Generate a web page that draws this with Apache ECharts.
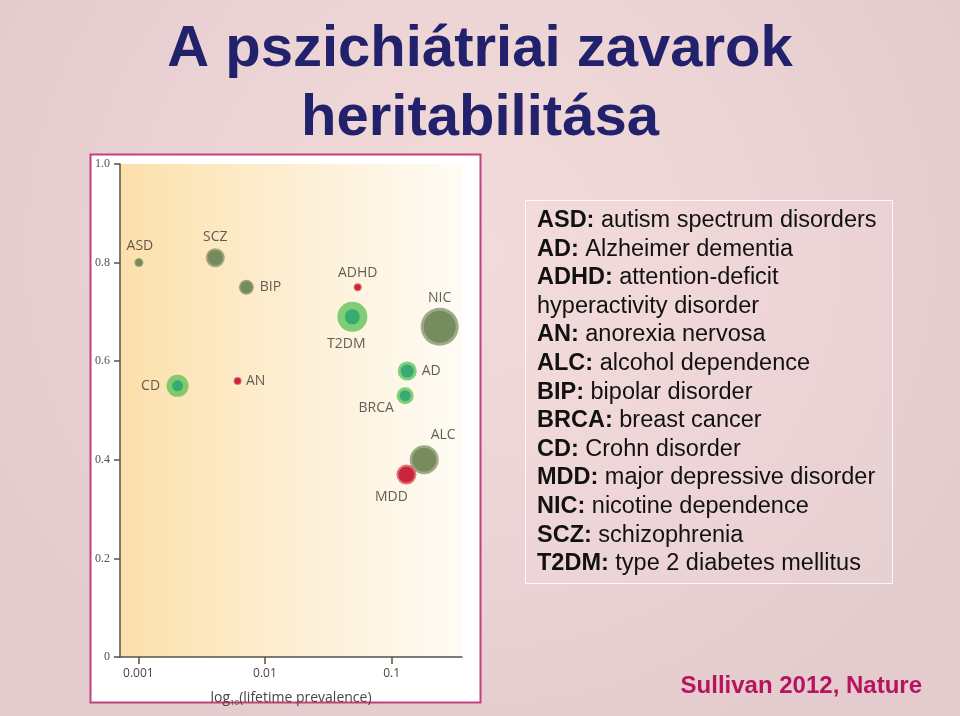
<!DOCTYPE html>
<html><head><meta charset="utf-8">
<script src="https://cdn.jsdelivr.net/npm/echarts@6/dist/echarts.min.js"></script>
<style>html,body{margin:0;padding:0;background:#e9d1d4;}#c{width:960px;height:716px;}</style>
</head><body><div id="c"></div>
<script>
// ---- data ----
const disorders    = ['ASD','SCZ','BIP','ADHD','T2DM','NIC','CD','AN','AD','BRCA','ALC','MDD'];
const prevalence   = [0.00101,0.00405,0.00713,0.054,0.049,0.24,0.00204,0.00608,0.133,0.128,0.181,0.131];
const heritability = [0.80,0.81,0.75,0.75,0.69,0.67,0.55,0.56,0.58,0.53,0.40,0.37];
const outerMagnitude = [9,19,15,8,30,38,22,8,19,17,29,20];
const innerMagnitude = [7,15,12,6,15,32,11,6,13,11,24,16];
const diseaseGroup = ['psy','psy','psy','red','med','psy','med','red','med','med','psy','red'];
const xTicks      = [0.001,0.01,0.1];
const xTickLabels = ['0.001','0.01','0.1'];
const yTicks      = [0,0.2,0.4,0.6,0.8,1.0];
const yTickLabels = ['0','0.2','0.4','0.6','0.8','1.0'];
const legendAbbr  = ['ASD','AD','ADHD','AN','ALC','BIP','BRCA','CD','MDD','NIC','SCZ','T2DM'];
const legendDesc  = ['autism spectrum disorders','Alzheimer dementia','attention-deficit\nhyperactivity disorder',
  'anorexia nervosa','alcohol dependence','bipolar disorder','breast cancer','Crohn disorder',
  'major depressive disorder','nicotine dependence','schizophrenia','type 2 diabetes mellitus'];
const titleText = 'A pszichiátriai zavarok\nheritabilitása';
const citeText  = 'Sullivan 2012, Nature';

// ---- styles ----
const haloColor = {psy:'rgba(128,145,104,0.95)', med:'#5fc35c', red:'#e0505f'};
const coreColor = {psy:'#6c8452', med:'#27a171', red:'#c3132c'};
const labelOffset = {ASD:[1,-17],SCZ:[0,-21],BIP:[24,0],ADHD:[0,-14],T2DM:[-6,27],NIC:[0,-29],
  CD:[-27,0],AN:[18,0],AD:[24,0],BRCA:[-29,12],ALC:[19,-25],MDD:[-15,22]};

const lg = v => Math.log10(v);
const pts = disorders.map((n,i)=>({name:n, idx:i}));

const haloData = pts.map(p=>({name:p.name, value:[lg(prevalence[p.idx]), heritability[p.idx], outerMagnitude[p.idx]],
  itemStyle:{color:haloColor[diseaseGroup[p.idx]]}}));
const coreData = pts.map(p=>({name:p.name, value:[lg(prevalence[p.idx]), heritability[p.idx], innerMagnitude[p.idx]],
  itemStyle:{color:coreColor[diseaseGroup[p.idx]]},
  label:{show:true, position:'inside', offset:labelOffset[p.name], formatter:p.name}}));

const legendRich = legendAbbr.map((a,i)=>'{b|'+a+':} '+legendDesc[i]).join('\n');

const chart = echarts.init(document.getElementById('c'), null, {renderer:'canvas'});
chart.setOption({
  animation:false,
  backgroundColor:{type:'radial', x:0.5, y:0.35, r:0.75, colorStops:[
    {offset:0,color:'#f3dada'},{offset:0.6,color:'#ebd2d4'},{offset:1,color:'#e3cbce'}]},
  grid:{left:120, right:498, top:164, bottom:59, show:true, borderWidth:0,
    backgroundColor:{type:'linear',x:0,y:0,x2:1,y2:0,colorStops:[
      {offset:0,color:'#fce0aa'},{offset:0.45,color:'#fdedcf'},{offset:1,color:'#fffcf5'}]}},
  graphic:[
    {type:'rect', z:-10, shape:{x:90.5,y:154.5,width:390,height:548},
      style:{fill:'#ffffff', stroke:'#c4407c', lineWidth:2}},
    {type:'rect', z:-10, shape:{x:525.5,y:200.5,width:367,height:383},
      style:{fill:'rgba(255,240,240,0.12)', stroke:'rgba(255,255,255,0.85)', lineWidth:1}},
    {type:'text', x:480, y:84, z:5,
      style:{text:titleText, textAlign:'center', textVerticalAlign:'middle', verticalAlign:'middle',
        fontFamily:'Liberation Sans, Arial', fontWeight:'bold', fontSize:58, lineHeight:69, fill:'#22226c'}},
    {type:'text', x:537, y:206.2, z:5,
      style:{text:legendRich, textAlign:'left', textVerticalAlign:'top', verticalAlign:'top',
        fontFamily:'Liberation Sans, Arial', fontSize:23.5, lineHeight:28.6, fill:'#111111',
        rich:{b:{fontFamily:'Liberation Sans, Arial', fontWeight:'bold', fontSize:23.5, lineHeight:28.6, fill:'#111111'}}}},
    {type:'text', x:922, y:686, z:5,
      style:{text:citeText, textAlign:'right', textVerticalAlign:'middle', verticalAlign:'middle',
        fontFamily:'Liberation Sans, Arial', fontWeight:'bold', fontSize:24, fill:'#b8135f'}}
  ],
  xAxis:{type:'value', min:lg(0.000716), max:lg(0.36),
    axisLine:{lineStyle:{color:'#5a5048', width:1.5}},
    axisTick:{show:true, length:7, inside:false, customValues:xTicks.map(lg), lineStyle:{color:'#5a5048', width:1.5}},
    axisLabel:{customValues:xTicks.map(lg), margin:11, color:'#4a4440', fontSize:12, fontFamily:'Open Sans',
      formatter:v=>{const k=xTicks.findIndex(t=>Math.abs(lg(t)-v)<1e-6);return k>=0?xTickLabels[k]:'';}},
    splitLine:{show:false},
    name:'{a|log}{s|10}{a|(lifetime prevalence)}', nameLocation:'middle', nameGap:32,
    nameTextStyle:{rich:{a:{fontSize:14, color:'#4a4440', fontFamily:'Open Sans', lineHeight:18},
      s:{fontSize:8, color:'#4a4440', fontFamily:'Open Sans', lineHeight:18, verticalAlign:'bottom', padding:[8,0,0,0]}}}
  },
  yAxis:{type:'value', min:0, max:1, interval:0.2,
    axisLine:{show:true, lineStyle:{color:'#5a5048', width:1.5}},
    axisTick:{show:true, length:6, lineStyle:{color:'#5a5048', width:1.5}},
    axisLabel:{margin:10, color:'#55504c', fontSize:12, fontFamily:'Liberation Serif',
      formatter:v=>{const k=yTicks.findIndex(t=>Math.abs(t-v)<1e-6);return k>=0?yTickLabels[k]:'';}},
    splitLine:{show:false}
  },
  series:[
    {type:'scatter', name:'halo', data:haloData, symbolSize:v=>v[2], z:2, silent:true},
    {type:'scatter', name:'core', data:coreData, symbolSize:v=>v[2], z:3,
      label:{show:true, color:'#3a3734', fontSize:14, fontFamily:'Open Sans'}}
  ]
});
</script></body></html>
